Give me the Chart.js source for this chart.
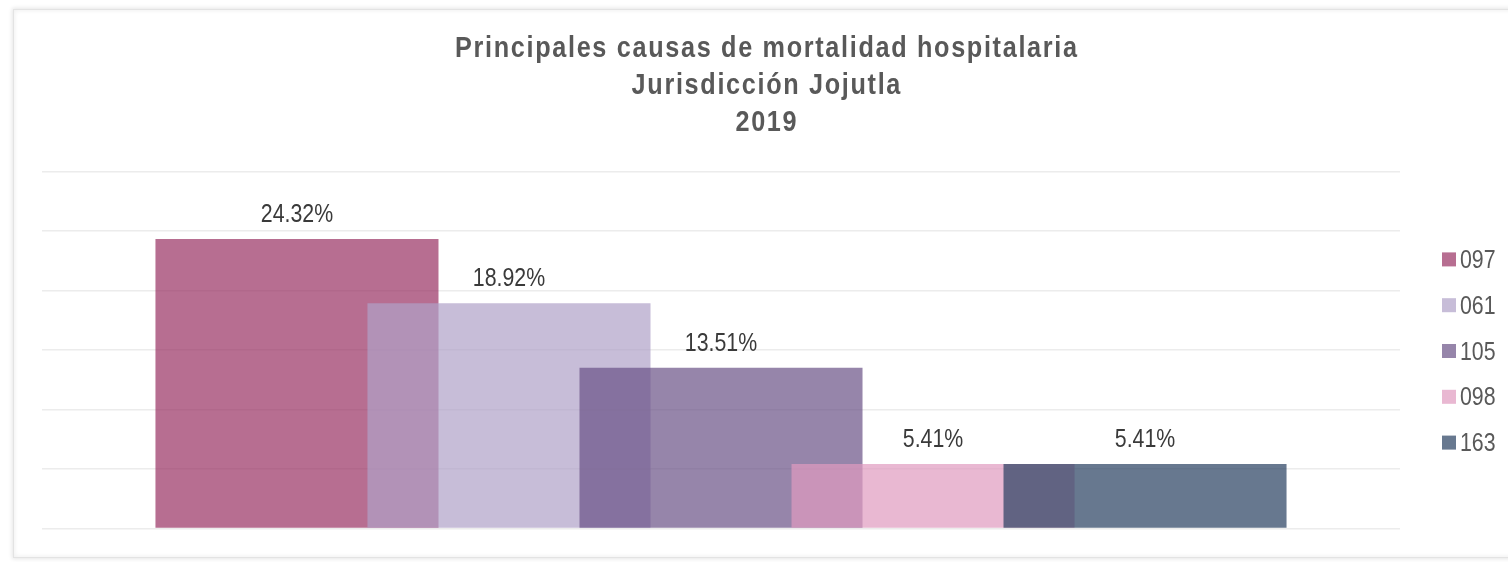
<!DOCTYPE html>
<html>
<head>
<meta charset="utf-8">
<script src="https://cdn.jsdelivr.net/npm/chart.js@4"></script>
<style>
  html, body { margin: 0; padding: 0; background: #fff; }
  body { width: 1508px; height: 562px; position: relative; overflow: hidden; }
  .frame {
    position: absolute; left: 13px; top: 9px; width: 1510px; height: 547px;
    border: 1px solid #e3e3e3;
    box-shadow: 0 0 4px 1px rgba(0,0,0,0.10), inset 0 0 4px 1px rgba(0,0,0,0.06);
  }
  #chart { position: absolute; left: 0; top: 0; }
</style>
</head>
<body>
<div class="frame"></div>
<canvas id="chart" width="1508" height="562"></canvas>
<script>
// Data
const categories = [''];
const seriesLabels = ['097', '061', '105', '098', '163'];
const seriesValues = [24.32, 18.92, 13.51, 5.41, 5.41];
const seriesColors = [
    'rgba(152, 49, 98, 0.7)',
    'rgba(175, 161, 199, 0.7)',
    'rgba(105, 81, 134, 0.7)',
    'rgba(224, 154, 191, 0.7)',
    'rgba(38, 62, 95, 0.7)'
];
const titleLines = ['Principales causas de mortalidad hospitalaria', 'Jurisdicción Jojutla', '2019'];
const yMin = 0, yMax = 30, yStep = 5;

// Narrow font, or a squeezed regular one if no narrow face is installed
function hasFont(name) {
    const c = document.createElement('canvas').getContext('2d');
    const probe = 'abcdefghij 0123456789%';
    c.font = '40px monospace';
    const a = c.measureText(probe).width;
    c.font = `40px "${name}", monospace`;
    return c.measureText(probe).width !== a;
}
const wideFamily = '"Liberation Sans", Arial, sans-serif';
let family = wideFamily;
let squeeze = 0.82;
if (hasFont('Liberation Sans Narrow')) { family = '"Liberation Sans Narrow"'; squeeze = 1; }
else if (hasFont('Arial Narrow')) { family = '"Arial Narrow"'; squeeze = 1; }

function drawText(ctx, txt, x, y, font, color, align, spacing, sx) {
    sx = sx || squeeze;
    ctx.save();
    ctx.font = font;
    ctx.fillStyle = color;
    ctx.textAlign = 'left';
    ctx.textBaseline = 'alphabetic';
    ctx.letterSpacing = (spacing || 0) + 'px';
    const w = ctx.measureText(txt).width - (spacing || 0);
    ctx.translate(x, y);
    ctx.scale(sx, 1);
    ctx.fillText(txt, align === 'center' ? -w / 2 : 0, 0);
    ctx.restore();
}

// Title, drawn with the same spacing on every line
const titlePlugin = {
    id: 'titleLines',
    afterDraw(chart) {
        const ctx = chart.ctx;
        const font = `bold 29px ${wideFamily}`;
        const sx = 0.87;
        ctx.save();
        ctx.font = font;
        const natural = ctx.measureText(titleLines[0]).width;
        ctx.restore();
        const spacing = Math.max(0, (622 / sx - natural) / (titleLines[0].length - 1));
        titleLines.forEach((line, i) => {
            drawText(ctx, line, 766, 57 + i * 37, font, '#595959', 'center', spacing, sx);
        });
    }
};

// Later series sit on top of earlier ones
const drawOrderPlugin = {
    id: 'drawOrder',
    beforeDatasetsDraw(chart) {
        for (let i = 0; i < chart.data.datasets.length; i++) {
            const meta = chart.getDatasetMeta(i);
            if (meta.visible) meta.controller.draw();
        }
        return false;
    }
};

// Value labels over each bar
const valueLabelPlugin = {
    id: 'valueLabels',
    afterDraw(chart) {
        const ctx = chart.ctx;
        chart.data.datasets.forEach((ds, i) => {
            const meta = chart.getDatasetMeta(i);
            meta.data.forEach((bar, j) => {
                const txt = ds.data[j].toFixed(2) + '%';
                drawText(ctx, txt, bar.x, bar.y - 17, `26px ${family}`, '#3a3a3a', 'center');
            });
        });
    }
};

// Legend on the right
const legendPlugin = {
    id: 'sideLegend',
    afterDraw(chart) {
        const ctx = chart.ctx;
        const area = chart.chartArea;
        const step = 45.8;
        const n = chart.data.datasets.length;
        const mid = (area.top + area.bottom) / 2;
        chart.data.datasets.forEach((ds, i) => {
            const cy = mid + (i - (n - 1) / 2) * step;
            ctx.save();
            ctx.fillStyle = ds.backgroundColor;
            ctx.fillRect(1442, cy - 6, 14, 14);
            ctx.restore();
            drawText(ctx, ds.label, 1460, cy + 9.5, `26px ${family}`, '#595959', 'left');
        });
    }
};

new Chart(document.getElementById('chart'), {
    type: 'bar',
    data: {
        labels: categories,
        datasets: seriesLabels.map((label, i) => ({
            label: label,
            data: [seriesValues[i]],
            backgroundColor: seriesColors[i],
            borderWidth: 0,
            categoryPercentage: 0.7806,
            barPercentage: 1.335
        }))
    },
    options: {
        responsive: false,
        animation: false,
        layout: {
            padding: { left: 42, right: 108, top: 171.5, bottom: 33.5 }
        },
        plugins: {
            legend: { display: false },
            title: { display: false },
            tooltip: { enabled: false }
        },
        scales: {
            x: { display: false },
            y: {
                min: yMin,
                max: yMax,
                ticks: { stepSize: yStep, display: false },
                grid: { color: '#ececec', lineWidth: 1.5, drawTicks: false },
                border: { display: false }
            }
        }
    },
    plugins: [drawOrderPlugin, valueLabelPlugin, legendPlugin, titlePlugin]
});
</script>
</body>
</html>
